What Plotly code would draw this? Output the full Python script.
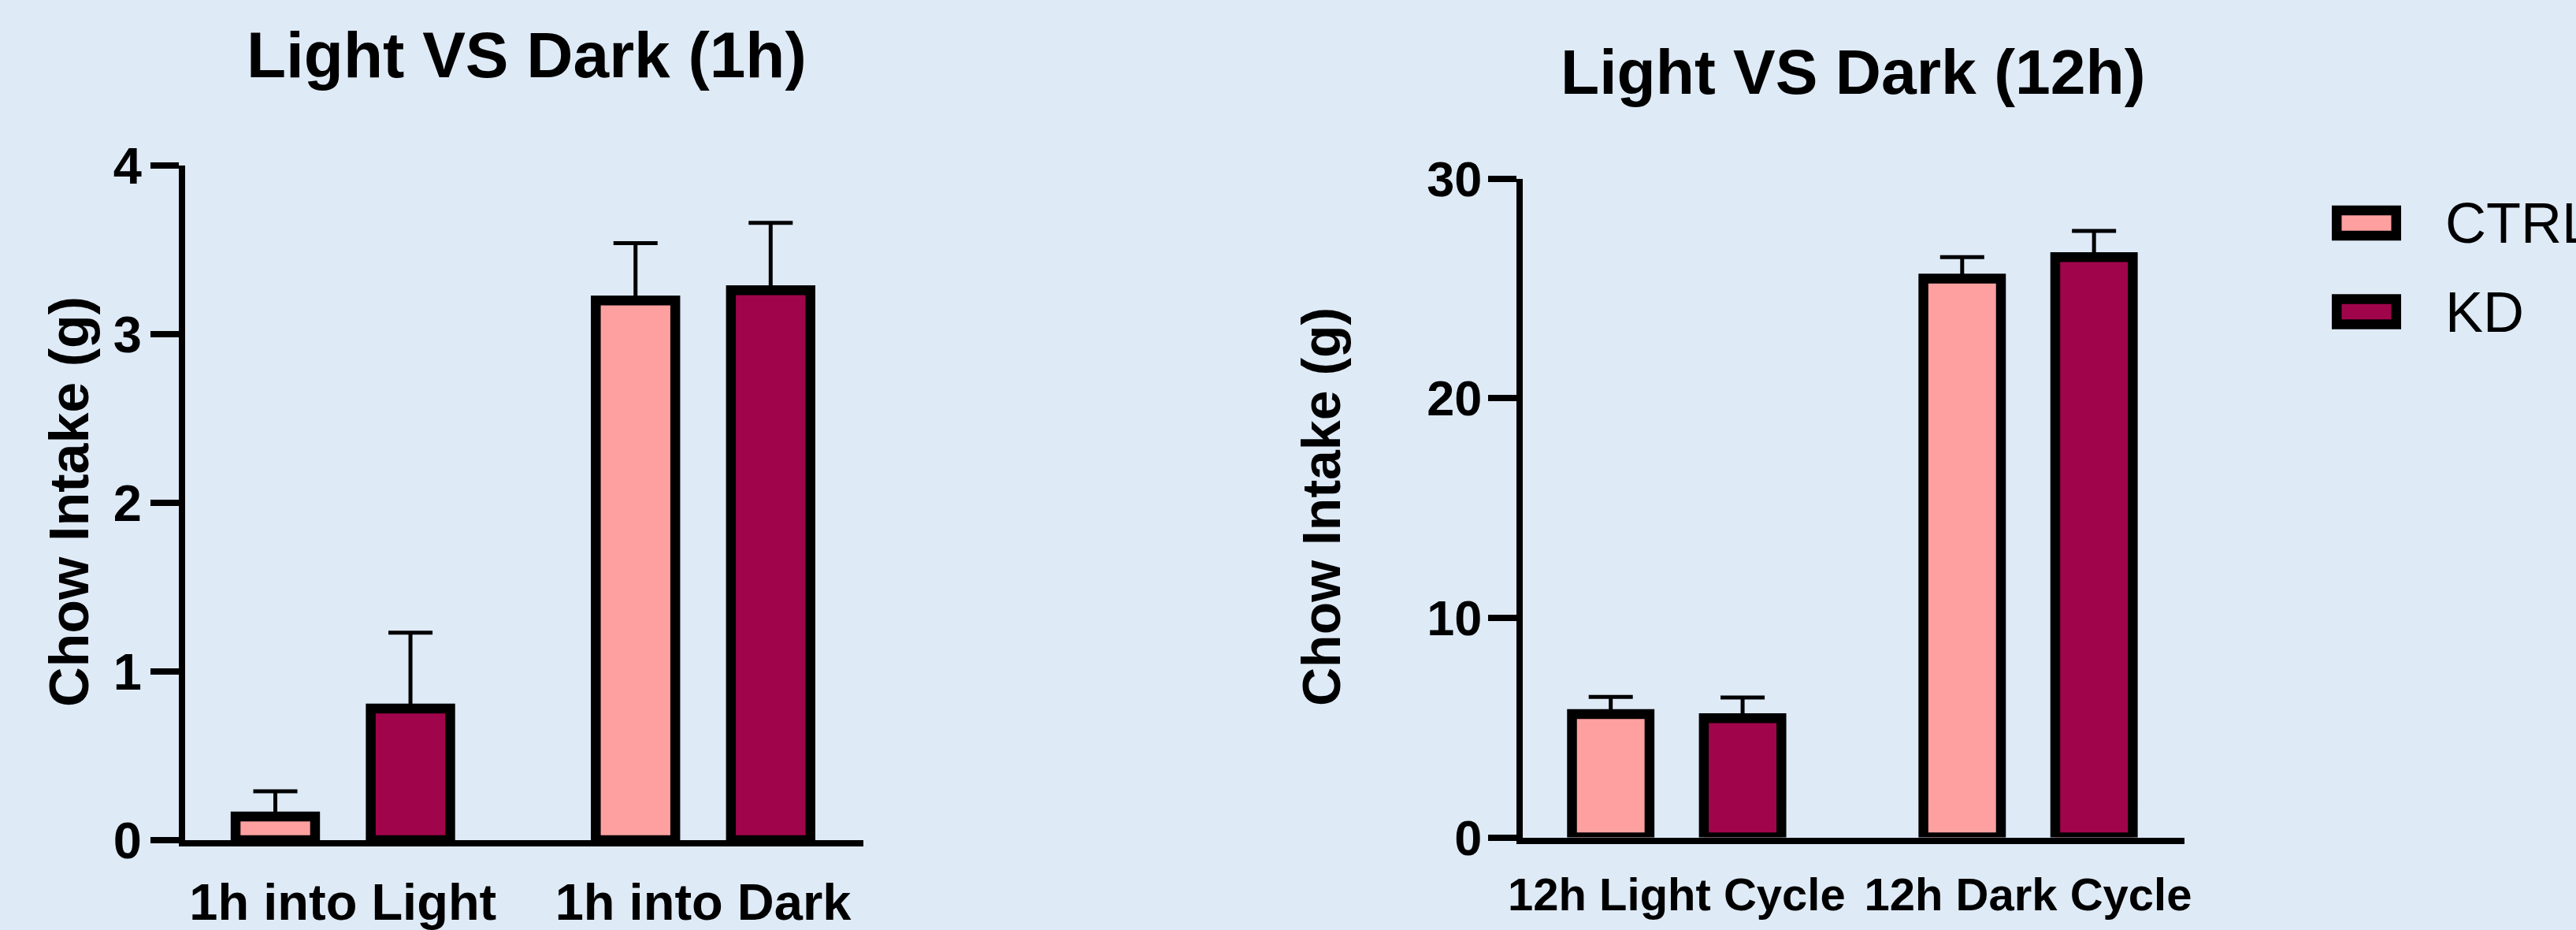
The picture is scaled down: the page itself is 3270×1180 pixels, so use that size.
import plotly.graph_objects as go

# ---------------- data ----------------
series_names = ["CTRL", "KD"]

cats_1h = ["1h into Light", "1h into Dark"]
ctrl_1h = [0.14, 3.20]
ctrl_1h_err = [0.15, 0.34]
kd_1h = [0.78, 3.26]
kd_1h_err = [0.45, 0.40]
ticks_1h = [0, 1, 2, 3, 4]

cats_12h = ["12h Light Cycle", "12h Dark Cycle"]
ctrl_12h = [5.62, 25.44]
ctrl_12h_err = [0.78, 0.98]
kd_12h = [5.43, 26.42]
kd_12h_err = [0.94, 1.19]
ticks_12h = [0, 10, 20, 30]

titles = ["Light VS Dark (1h)", "Light VS Dark (12h)"]
y_title = "Chow Intake (g)"

# ---------------- style ----------------
W, H = 3270, 1180
BG = "#DEEAF6"
COLORS = {"CTRL": "#FFA0A0", "KD": "#A0054B"}
FONT = "Liberation Sans, Arial, Helvetica, sans-serif"
BAR_W = 0.2206
HALF = 0.1876
BORDER = 12.5


def px_x(p):
    return p / W


def px_y(p):
    return 1 - p / H


fig = go.Figure()


def add_bars(cats, vals, errs, name, xa, ya, sign):
    fig.add_trace(go.Bar(
        x=cats, y=vals, name=name, xaxis=xa, yaxis=ya,
        width=BAR_W, offset=sign * HALF - BAR_W / 2,
        marker=dict(color=COLORS[name], line=dict(color="black", width=BORDER)),
        error_y=dict(type="data", array=errs, arrayminus=[0] * len(errs),
                     symmetric=False, color="black", thickness=5, width=28),
        showlegend=False, hoverinfo="x+y",
    ))


add_bars(cats_1h, ctrl_1h, ctrl_1h_err, "CTRL", "x", "y", -1)
add_bars(cats_1h, kd_1h, kd_1h_err, "KD", "x", "y", 1)
add_bars(cats_12h, ctrl_12h, ctrl_12h_err, "CTRL", "x2", "y2", -1)
add_bars(cats_12h, kd_12h, kd_12h_err, "KD", "x2", "y2", 1)

common_x = dict(type="category", range=[-0.438, 1.445], showline=True,
                linecolor="black", linewidth=8, ticks="", showgrid=False,
                zeroline=False, fixedrange=True, automargin=False,
                ticklabelstandoff=15)
common_y = dict(showline=True, linecolor="black", linewidth=8, ticks="outside",
                ticklen=36, tickwidth=8, tickcolor="black", showgrid=False,
                zeroline=False, fixedrange=True, automargin=False)

fig.update_layout(
    width=W, height=H, autosize=False,
    paper_bgcolor=BG, plot_bgcolor=BG,
    margin=dict(l=0, r=0, t=0, b=0, pad=0, autoexpand=False),
    barmode="overlay",
    showlegend=False,
    font=dict(family=FONT, color="black"),
    xaxis=dict(common_x, domain=[px_x(235), px_x(1096)], anchor="y",
               tickfont=dict(family=FONT, size=65, weight="bold", color="black")),
    yaxis=dict(common_y, domain=[px_y(1066), px_y(210)], anchor="x",
               range=[0, 4], tickvals=ticks_1h, ticklabelstandoff=-2,
               tickfont=dict(family=FONT, size=65, weight="bold", color="black")),
    xaxis2=dict(common_x, domain=[px_x(1933), px_x(2773)], anchor="y2",
                tickfont=dict(family=FONT, size=58, weight="bold", color="black")),
    yaxis2=dict(common_y, domain=[px_y(1062.5), px_y(226.5)], anchor="x2",
                range=[0, 30], tickvals=ticks_12h, ticklabelstandoff=-5,
                tickfont=dict(family=FONT, size=63, weight="bold", color="black")),
)

annotations = [
    dict(text=titles[0], x=px_x(668), y=px_y(70), xref="paper", yref="paper",
         xanchor="center", yanchor="middle", showarrow=False,
         font=dict(family=FONT, size=82, weight="bold", color="black")),
    dict(text=titles[1], x=px_x(2352), y=px_y(91), xref="paper", yref="paper",
         xanchor="center", yanchor="middle", showarrow=False,
         font=dict(family=FONT, size=80.5, weight="bold", color="black")),
    dict(text=y_title, x=px_x(88), y=px_y(637), xref="paper", yref="paper",
         xanchor="center", yanchor="middle", textangle=-90, showarrow=False,
         font=dict(family=FONT, size=70, weight="bold", color="black")),
    dict(text=y_title, x=px_x(1677), y=px_y(643), xref="paper", yref="paper",
         xanchor="center", yanchor="middle", textangle=-90, showarrow=False,
         font=dict(family=FONT, size=68, weight="bold", color="black")),
]

# manual legend (swatches drawn as boxes with thick outline)
shapes = []
legend_rows = [283, 395.5]
for name, cy in zip(series_names, legend_rows):
    shapes.append(dict(type="rect", xref="paper", yref="paper",
                       x0=px_x(2966.25), x1=px_x(3041.75),
                       y0=px_y(cy - 16), y1=px_y(cy + 16),
                       fillcolor=COLORS[name], line=dict(color="black", width=BORDER)))
    annotations.append(dict(text=name, x=px_x(3102), y=px_y(cy), xref="paper",
                            yref="paper", xanchor="left", yanchor="middle",
                            showarrow=False,
                            font=dict(family=FONT, size=72, color="black")))

fig.update_layout(annotations=annotations, shapes=shapes)

fig.write_html(
    "out.html",
    config={"responsive": False, "displayModeBar": False},
    post_script="document.body.style.margin='0';document.body.style.overflow='hidden';",
)
